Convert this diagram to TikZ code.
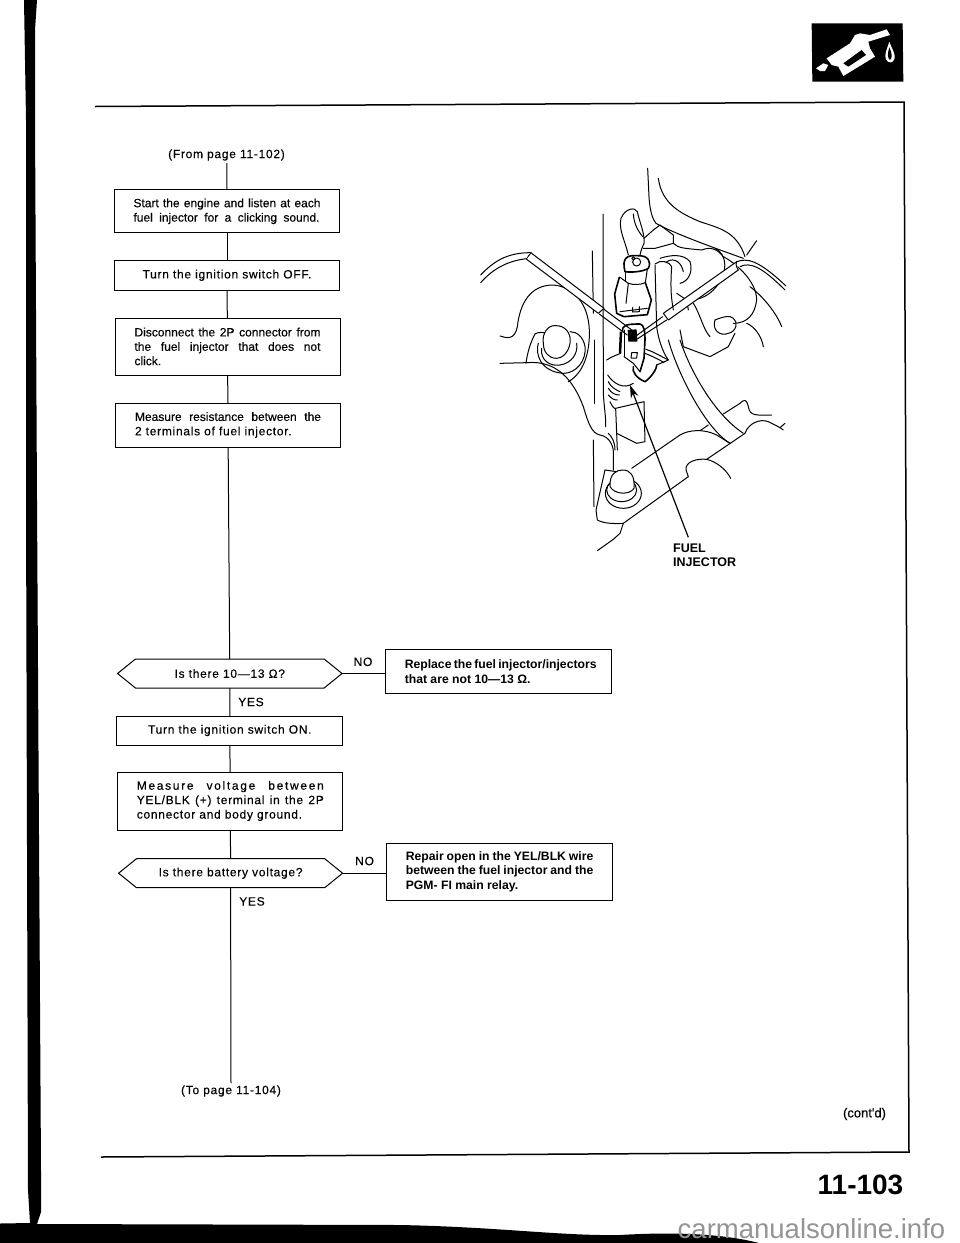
\documentclass[tikz,border=0pt]{standalone}
\usepackage{fontspec}
\setmainfont{Liberation Sans}
\newfontfamily\lsa{Liberation Sans}[FakeBold=0.25]
\newfontfamily\lsb{Liberation Sans}[LetterSpace=6,FakeBold=0.25]
\newfontfamily\lsc{Liberation Sans}[LetterSpace=14,FakeBold=0.25]
\usetikzlibrary{shapes.symbols,arrows.meta}
\newcommand{\fl}[2]{\makebox[#1pt][s]{#2}}
\tikzset{
 fbox/.style={draw=black,line width=1pt,inner sep=0pt,outer sep=0pt,font=\fontsize{12}{14.4}\selectfont\lsa,align=left,fill=white},
 fbold/.style={fbox,font=\fontsize{12.2}{14.4}\selectfont\bfseries},
 fdia/.style={draw=black,line width=1pt,inner sep=0pt,outer sep=0pt,shape=signal,signal to=west and east,signal from=nowhere,signal pointer angle=78,font=\fontsize{12}{14.4}\selectfont\lsb,fill=white},
 flow/.style={draw=black,line width=1pt},
 frame/.style={draw=black,line width=1.5pt},
 lbl/.style={inner sep=0pt,font=\fontsize{12}{14}\selectfont\lsb},
 ill/.style={draw=black,line width=1pt,line join=round,line cap=round},
 illt/.style={draw=black,line width=1.6pt,line join=round,line cap=round}
}
\begin{document}
\begin{tikzpicture}[x=1pt,y=-1pt]
\useasboundingbox (0,0) rectangle (960,1243);
\fill[white] (0,0) rectangle (960,1243);
% page edge and bottom shadow
\fill[black] (24,0) -- (37,0) -- (35,30) -- (35,120) -- (37,500) -- (41,1170) -- (41,1212) -- (37,1224) -- (400,1225) .. controls (500,1227) and (560,1236) .. (620,1235) .. controls (670,1232) and (720,1233) .. (759,1243) -- (0,1243) -- (0,1223.5) -- (30,1223) -- (28,1190) -- (26,500) -- (26,120) -- cycle;
% frame
\coordinate (fa) at (95,106.5); \coordinate (fb) at (904,102); \coordinate (fc) at (909,1152); \coordinate (fd) at (101,1157);
\draw[frame] (fa) -- (fb) -- (fc) -- (fd);
% flow
\node[lbl] (from) at (226.5,155) {(From page 11-102)};
\coordinate (fromend) at (226.8,163);
\node[fbox,minimum width=225,minimum height=43] (b1) at (227,211.3) {\fl{187}{Start the engine and listen at each}\\\fl{186}{fuel injector for a clicking sound.}};
\node[fbox,minimum width=225,minimum height=30,font=\fontsize{12}{14.4}\selectfont\lsb] (b2) at (227,275.3) {Turn the ignition switch OFF.};
\node[fbox,minimum width=225,minimum height=57] (b3) at (227.5,346.5) {\fl{186}{Disconnect the 2P connector from}\\\fl{186}{the fuel injector that does not}\\\fl{186}{click.\hfill}};
\node[fbox,minimum width=225.5,minimum height=44] (b4) at (228,425) {\fl{186}{Measure resistance between the}\\\fl{186}{\lsb 2 terminals of fuel injector.\hfill}};
\node[fdia,minimum width=224.5,minimum height=29] (d1) at (229.8,673.5) {Is there 10—13 Ω?};
\node[fbold,minimum width=226,minimum height=44] (r1) at (498.5,671.5) {\fl{187.5}{Replace the fuel injector/injectors}\\\fl{187.5}{that are not 10—13 Ω.\hfill}};
\node[fbox,minimum width=225.7,minimum height=29,font=\fontsize{12}{14.4}\selectfont\lsb] (b5) at (229.8,730.5) {Turn the ignition switch ON.};
\node[fbox,minimum width=225.3,minimum height=58,font=\fontsize{12}{14.4}\selectfont\lsb] (b6) at (230.3,801) {\fl{187}{\lsc Measure voltage between}\\\fl{187}{YEL/BLK (+) terminal in the 2P}\\\fl{187}{connector and body ground.\hfill}};
\node[fdia,minimum width=224,minimum height=29] (d2) at (230.6,873.2) {Is there battery voltage?};
\node[fbold,minimum width=226,minimum height=57.4] (r2) at (499.6,871.7) {\fl{187.5}{Repair open in the YEL/BLK wire}\\\fl{187.5}{between the fuel injector and the}\\\fl{187.5}{PGM- FI main relay.\hfill}};
\node[lbl] (to) at (231,1091) {(To page 11-104)};
\coordinate (toend) at (231,1083);
\draw[flow] (fromend) -- (b1.north);
\draw[flow] (b1) -- (b2);
\draw[flow] (b2) -- (b3);
\draw[flow] (b3) -- (b4);
\draw[flow] (b4) -- (d1);
\draw[flow] (d1) -- (b5);
\draw[flow] (b5) -- (b6);
\draw[flow] (b6) -- (d2);
\draw[flow] (d2.south) -- (toend);
\draw[flow] (d1.east) -- (d1.east -| r1.west);
\draw[flow] (d2.east) -- (d2.east -| r2.west);
\node[lbl] (no1) at (363,661.8) {NO};
\node[lbl] (yes1) at (251,702) {YES};
\node[lbl] (no2) at (364.6,861) {NO};
\node[lbl] (yes2) at (252,901.4) {YES};
\node[lbl,font=\fontsize{13}{14}\selectfont\lsa] (cont) at (864.5,1114) {(cont'd)};
\node[inner sep=0pt,font=\fontsize{28}{30}\selectfont\bfseries] (pg) at (860.5,1185) {11-103};
\node[inner sep=0pt,anchor=west,align=left,font=\fontsize{12.5}{14}\selectfont\bfseries] (fi) at (673,555) {FUEL\\INJECTOR};
\node[inner sep=0pt,text=black!42,font=\fontsize{27.5}{30}\selectfont] (wm) at (811.5,1229) {carmanualsonline.info};
% fuel nozzle icon
\begin{scope}[shift={(780,0)},scale=1/3]
\fill[black] (95,70) -- (368,70) -- (370,245) -- (97,245) -- cycle;
\fill[white] (140,175) -- (210,130) -- (225,105) -- (240,100) -- (270,105) -- (320,88) -- (330,105) -- (265,125) -- (270,145) -- (285,170) -- (190,228) -- (175,200) -- (155,195) -- cycle;
\fill[black] (190,190) -- (245,150) -- (258,165) -- (205,200) -- cycle;
\fill[white] (108,205) -- (130,190) -- (145,195) -- (135,213) -- (120,213) -- cycle;
\fill[white] (328,125) .. controls (320,150) and (312,165) .. (318,178) .. controls (325,192) and (340,190) .. (344,175) .. controls (346,160) and (335,145) .. (328,125) -- cycle;
\fill[black] (328,142) .. controls (322,160) and (322,175) .. (330,180) .. controls (338,175) and (336,158) .. (328,142) -- cycle;
\end{scope}
% illustration
\begin{scope}[shift={(440,140)},scale=1/3]
% verticals
\draw[ill] (489,222) -- (490,760) .. controls (492,800) and (498,830) .. (497,860);
\draw[ill] (457,333) -- (460,520);
\draw[ill] (462,600) -- (462,790);
\draw[ill] (460,900) -- (462,1100);
% left bolt
\draw[ill] (180,588) .. controls (200,595) and (225,600) .. (232,560) .. controls (240,490) and (270,435) .. (340,435) .. controls (400,440) and (445,490) .. (448,570) .. controls (450,640) and (430,700) .. (385,725);
\draw[ill] (285,582) .. controls (270,610) and (262,640) .. (258,670);
\draw[ill] (285,582) .. controls (295,575) and (310,578) .. (320,578);
\draw[ill] (295,610) .. controls (285,640) and (300,695) .. (370,700) .. controls (410,700) and (440,660) .. (435,620) .. controls (430,590) and (410,575) .. (390,575);
\draw[ill] (305,625) .. controls (300,660) and (330,680) .. (360,675) .. controls (395,670) and (415,640) .. (410,610);
\draw[ill,fill=white] (310,610) .. controls (305,580) and (325,555) .. (345,557) .. controls (375,555) and (395,580) .. (390,610) .. controls (385,640) and (365,655) .. (350,655) .. controls (325,655) and (310,635) .. (310,610) -- cycle;
\draw[ill] (180,670) -- (260,668) .. controls (350,660) and (400,720) .. (430,800) .. controls (445,850) and (455,880) .. (480,885) .. controls (510,890) and (520,920) .. (520,935) -- (520,990);
% left probe
\draw[ill] (122,405) .. controls (160,365) and (200,338) .. (272,338);
\draw[ill] (122,428) .. controls (160,385) and (205,362) .. (260,356);
\draw[ill] (275,338) .. controls (268,345) and (262,350) .. (260,358);
\draw[ill,fill=white] (275,340) -- (492,505) -- (475,520) -- (260,358);
\draw[ill] (492,508) -- (578,572);
\draw[ill] (478,522) -- (562,585);
% rubber cap
\draw[ill] (565,345) .. controls (555,300) and (535,270) .. (543,235) .. controls (555,205) and (585,200) .. (592,215) .. controls (598,245) and (615,280) .. (612,310) .. controls (605,325) and (602,335) .. (600,345);
\draw[ill] (580,222) .. controls (582,250) and (592,270) .. (608,290);
% upper right outlines
\draw[ill] (655,115) .. controls (665,190) and (720,220) .. (780,245) .. controls (840,265) and (890,275) .. (915,350);
\draw[ill] (623,85) -- (627,170) .. controls (630,220) and (640,240) .. (648,250);
\draw[ill] (648,250) .. controls (700,280) and (840,330) .. (910,355);
\draw[ill] (950,302) -- (920,345);
% bracket behind
\draw[ill] (610,325) -- (645,325) -- (700,310) -- (700,285) -- (660,255) -- (640,270) -- (612,295);
\draw[ill] (700,310) .. controls (715,325) and (735,325) .. (785,330) .. controls (810,320) and (830,325) .. (850,350);
\draw[ill] (660,355) .. controls (690,345) and (730,340) .. (750,365) .. controls (760,395) and (745,425) .. (720,430);
\draw[ill] (680,365) .. controls (705,350) and (725,370) .. (730,395);
\draw[ill] (825,325) .. controls (860,340) and (870,400) .. (820,450) .. controls (800,470) and (770,485) .. (740,475);
\draw[ill] (850,350) .. controls (880,365) and (950,420) .. (950,480) .. controls (945,520) and (925,550) .. (880,550);
\draw[ill] (825,540) .. controls (815,570) and (840,590) .. (865,580) .. controls (890,575) and (895,545) .. (880,535) .. controls (870,525) and (850,530) .. (825,540);
\draw[ill] (760,490) .. controls (780,520) and (790,570) .. (810,590);
\draw[ill] (720,570) -- (730,620) -- (810,650) -- (865,620) -- (885,580);
\draw[ill] (710,460) -- (740,480) -- (745,510);
\draw[ill] (930,440) .. controls (970,470) and (1010,520) .. (1025,560);
\draw[ill] (920,550) .. controls (945,560) and (965,590) .. (970,620);
% right probe
\draw[ill,fill=white] (890,365) -- (670,520) -- (685,540) -- (895,390);
\draw[ill] (668,530) -- (585,590);
\draw[ill] (680,540) -- (590,598);
\draw[ill] (890,365) .. controls (920,355) and (950,355) .. (1038,438);
\draw[ill] (900,380) .. controls (930,365) and (965,380) .. (1035,450);
\draw[ill] (890,365) .. controls (885,375) and (892,385) .. (895,390);
% injector tip and connector
\draw[illt] (555,395) .. controls (545,355) and (560,345) .. (590,347) .. controls (625,345) and (635,365) .. (625,385) .. controls (610,395) and (575,398) .. (555,395);
\draw[ill] (590,366) circle[radius=12];
\draw[ill] (580,355) circle[radius=5];
\draw[ill] (555,395) -- (555,425);
\draw[ill] (622,388) -- (616,428);
\draw[ill] (565,430) .. controls (580,435) and (600,435) .. (616,428);
\draw[illt] (538,412) -- (524,462) -- (530,520) -- (552,530) -- (622,524) -- (634,480) -- (616,428);
\draw[ill] (540,412) -- (565,430) -- (558,490);
\draw[ill] (540,515) -- (622,505);
\draw[ill] (578,502) -- (578,516) -- (598,515) -- (598,500);
% lower connector
\draw[illt] (548,575) .. controls (545,555) and (560,552) .. (600,552) .. controls (612,553) and (615,575) .. (615,600) -- (612,655) -- (600,695) ;
\draw[ill] (552,570) -- (552,650);
\fill[black] (563,570) -- (590,568) -- (592,605) -- (565,605) -- cycle;
\draw[ill] (575,638) -- (592,638) -- (590,654) -- (573,654) -- cycle;
\draw[line width=2.5pt] (543,575) -- (540,640);
\draw[ill] (552,650) -- (580,670) -- (600,695);
% injector body
\draw[ill] (500,660) .. controls (515,650) and (530,645) .. (542,640);
\draw[ill] (503,705) .. controls (520,730) and (550,750) .. (580,730);
\draw[illt] (580,680) .. controls (575,695) and (590,715) .. (615,725) .. controls (630,715) and (650,690) .. (650,675);
\draw[ill] (615,640) .. controls (640,650) and (660,660) .. (672,668);
\draw[ill] (618,628) .. controls (640,635) and (665,650) .. (685,660) -- (650,675);
\draw[ill] (505,725) .. controls (515,745) and (530,750) .. (540,755);
\draw[ill] (505,745) .. controls (515,760) and (525,765) .. (538,765);
\draw[ill] (505,765) .. controls (515,775) and (520,780) .. (532,780);
\draw[ill] (510,785) .. controls (515,795) and (520,805) .. (525,805);
% tube
\draw[ill] (645,372) .. controls (660,358) and (690,365) .. (695,380) .. controls (690,450) and (695,480) .. (700,510);
\draw[ill] (645,375) -- (650,560) .. controls (655,600) and (670,640) .. (685,660);
\draw[ill] (685,600) .. controls (710,690) and (790,860) .. (870,910);
\draw[ill] (720,600) .. controls (750,690) and (820,820) .. (910,880);
% plate
\draw[ill] (850,822) -- (900,790) .. controls (915,775) and (920,780) .. (925,800) .. controls (930,830) and (950,825) .. (995,825);
\draw[ill] (915,880) .. controls (925,850) and (960,835) .. (985,845) .. controls (1005,855) and (1020,862) .. (1030,870);
\draw[ill] (1035,850) -- (1020,863);
\draw[ill] (915,880) -- (800,958);
\draw[ill] (800,958) .. controls (770,955) and (735,965) .. (738,990) -- (745,1010);
\draw[ill] (800,958) .. controls (830,965) and (860,990) .. (872,1015);
\draw[ill] (745,1010) -- (550,1150);
\draw[ill] (550,1150) -- (540,1180) -- (520,1198) -- (472,1232);
\draw[ill] (550,1150) .. controls (520,1152) and (490,1150) .. (472,1140) -- (468,1110) -- (495,990);
\draw[ill] (495,990) -- (530,995);
\draw[ill] (575,985) -- (720,885) .. controls (745,870) and (790,865) .. (830,885) -- (870,910);
\draw[ill] (780,872) -- (805,855);
% lower bolt
\draw[ill] (550,1060) ellipse[x radius=54,y radius=45];
\draw[ill] (545,1050) ellipse[x radius=45,y radius=35];
\draw[ill,fill=white] (510,1040) .. controls (508,1000) and (530,990) .. (548,990) .. controls (570,990) and (585,1005) .. (582,1045) .. controls (570,1065) and (525,1065) .. (510,1040) -- cycle;
% centre block below injector
\draw[ill] (527,805) -- (612,785) -- (615,905) -- (590,910) -- (530,880);
\draw[ill] (527,805) -- (532,930);
\draw[ill] (505,880) .. controls (515,890) and (525,905) .. (525,930);
% arrow
\coordinate (atail) at (745,1192);
\coordinate (ahead) at (570,735);
\draw[line width=1.2pt,-{Stealth[length=13pt,width=8pt]}] (atail) -- (ahead);
\end{scope}
\end{tikzpicture}
\end{document}
